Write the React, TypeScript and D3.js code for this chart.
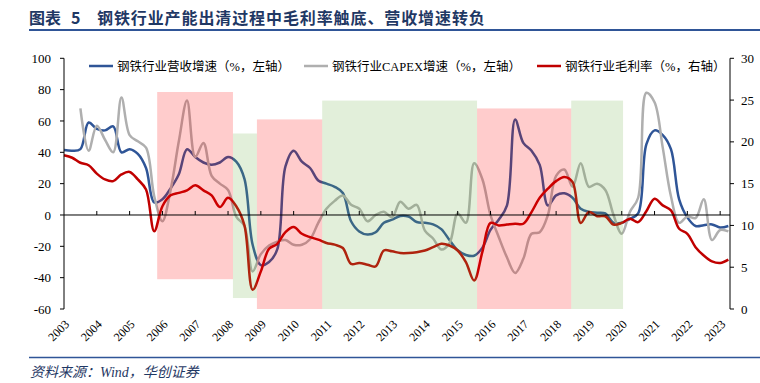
import React from 'react';
import * as d3 from 'd3';

// ---------- data (quarterly, starting 2003Q1) ----------
const startYear = 2003;
const yearLabels = ['2003','2004','2005','2006','2007','2008','2009','2010','2011','2012','2013','2014','2015','2016','2017','2018','2019','2020','2021','2022','2023'];
const leftTicks = [-60, -40, -20, 0, 20, 40, 60, 80, 100];
const rightTicks = [0, 5, 10, 15, 20, 25, 30];

// 钢铁行业营收增速 (%, left axis)
const revenueGrowth: number[] = [
  41.5, 41, 42, 59, 55, 54, 56.5, 40, 42, 39,
  30, 8, 10, 17, 26, 42, 37, 33.5, 32, 33.5,
  37, 34, 23, -19, -32, -30, -22, 31, 41, 34,
  30, 22, 20, 18, 14, -4, -10.5, -12.5, -11, -5,
  -3, -0.6, -1, -4.5, -5, -6, -9, -16, -22.5, -25.5,
  -26, -21, -9.5, -3, 6, 61, 46, 41, 32, 6,
  12.5, 13.8, 11, 4, 2, 1.5, 1, -5, -5, -2.5,
  1, 45, 54, 51, 42, 10, -1.5, -7, -6.5, -6,
  -8, -7,
];

// 钢铁行业CAPEX增速 (%, left axis)
const capexGrowth: (number | null)[] = [
  null, null, 68, 41, 57, 48, 40, 75, 51, 47,
  43, 12, -4, 16, 47, 73, 37, 46, 25, 20,
  16, -1, -7, -36, -25, -19.5, -17, -16, -19, -19,
  -15.5, -5, 4, 9, 12.5, 6.5, 4, -4, 0, 2,
  -1.5, 8.5, 4, 6.4, -10, -15, -22, -18, 1, -5,
  33, 23, 0, -14, -27, -37, -28, -12, -11, 0,
  25, 29, 18, 33, 18, 20, 16, 0, -12, 2,
  11, 78, 72, 43, 12, -5, -1, -2, 10, -16,
  -9.6, -10.5,
];

// 钢铁行业毛利率 (%, right axis)
const grossMargin: number[] = [
  18.4, 18.1, 17.5, 17.2, 16.2, 15.5, 15.3, 16.1, 16.4, 15.5,
  14.3, 9.3, 12.3, 13.6, 13.9, 14.2, 14.8, 14.2, 13.6, 12.2,
  13.3, 12.3, 10, 2.3, 4.5, 7.2, 7.8, 9.2, 9.8, 9.0,
  8.6, 8.3, 7.9, 7.7, 7.3, 5.4, 5.5, 5.3, 5.1, 7.0,
  6.9, 6.7, 6.7, 6.8, 7.0, 7.4, 7.8, 7.6, 7.0, 5.6,
  3.4, 6.8, 10.3, 10.0, 10.1, 10.2, 10.2, 11.6, 13.3, 14.4,
  15.3, 15.8, 15.2, 10.3, 11.6, 11.1, 11.1, 10.1, 10.3, 10.8,
  10.4, 11.7, 13.2, 12.4, 11.8, 9.6, 9.0, 7.4, 6.4, 5.7,
  5.5, 5.9,
];

// shaded periods: [start year, end year, top value, bottom value] (left-axis units)
const pinkPeriods = [
  [2005.84, 2008.15, 78.5, -41],
  [2008.88, 2010.87, 61, -60],
  [2015.59, 2018.46, 68, -60],
];
const greenPeriods = [
  [2008.15, 2008.88, 52, -53],
  [2010.87, 2015.59, 73, -60],
  [2018.46, 2020.04, 73, -60],
];

const legendItems = [
  { label: '钢铁行业营收增速（%，左轴）', color: '#2f5597' },
  { label: '钢铁行业CAPEX增速（%，左轴）', color: '#afafaf' },
  { label: '钢铁行业毛利率（%，右轴）', color: '#c00000' },
];

// ---------- chart ----------
const W = 760;
const H = 383;
const X0 = 64;
const X1 = 730;
const YTOP = 58.3;
const YBOT = 309;

export default function App() {
  const x = d3.scaleLinear().domain([2003, 2023.3]).range([X0, X1]);
  const yL = d3.scaleLinear().domain([-60, 100]).range([YBOT, YTOP]);
  const yR = d3.scaleLinear().domain([0, 30]).range([YBOT, YTOP]);
  const tq = (i: number) => startYear + i / 4;

  const lineL = d3
    .line<number | null>()
    .defined((d) => d !== null)
    .x((_, i) => x(tq(i)))
    .y((d) => yL(d as number))
    .curve(d3.curveCatmullRom.alpha(0.5));
  const lineR = d3
    .line<number>()
    .x((_, i) => x(tq(i)))
    .y((d) => yR(d))
    .curve(d3.curveCatmullRom.alpha(0.5));

  const serif = "'Liberation Serif', 'Times New Roman', serif";
  const cjk = "'Liberation Serif', 'Noto Sans CJK SC', serif";
  const navy = '#1f3864';

  const legendX = [89, 304, 537];

  return (
    <svg
      width={W}
      height={H}
      style={{ position: 'absolute', left: 0, top: 0, background: '#fff' }}
    >
      {/* title */}
      <text x={29} y={24} fontFamily="'Noto Sans CJK SC', sans-serif" fontWeight={700} fontSize={16} fill={navy}>
        <tspan>图表</tspan>
        <tspan x={71}>5</tspan>
        <tspan x={97} letterSpacing={0.9}>钢铁行业产能出清过程中毛利率触底、营收增速转负</tspan>
      </text>
      <line x1={29} x2={760} y1={30} y2={30} stroke="#2f5597" strokeWidth={2} />

      {/* lines */}
      <path d={lineL(revenueGrowth) || ''} fill="none" stroke="#2f5597" strokeWidth={2.5} />
      <path d={lineL(capexGrowth) || ''} fill="none" stroke="#afafaf" strokeWidth={2.5} />
      <path d={lineR(grossMargin) || ''} fill="none" stroke="#c00000" strokeWidth={2.5} />

      {/* shaded periods drawn on top with transparency */}
      {pinkPeriods.map((p, k) => (
        <rect
          key={'p' + k}
          x={x(p[0])}
          width={x(p[1]) - x(p[0])}
          y={yL(p[2])}
          height={yL(p[3]) - yL(p[2])}
          fill="rgba(255,0,0,0.2)"
        />
      ))}
      {greenPeriods.map((p, k) => (
        <rect
          key={'g' + k}
          x={x(p[0])}
          width={x(p[1]) - x(p[0])}
          y={yL(p[2])}
          height={yL(p[3]) - yL(p[2])}
          fill="rgba(112,173,71,0.2)"
        />
      ))}

      {/* zero line with year ticks */}
      <line x1={X0} x2={X1} y1={yL(0)} y2={yL(0)} stroke="#000" strokeWidth={1} />
      {yearLabels.map((yl, k) =>
        k === 0 ? null : (
          <line
            key={'xt' + yl}
            x1={x(+yl)}
            x2={x(+yl)}
            y1={yL(0)}
            y2={yL(0) - 4}
            stroke="#000"
            strokeWidth={1}
          />
        )
      )}

      {/* left axis */}
      <line x1={X0} x2={X0} y1={YTOP} y2={YBOT} stroke="#000" strokeWidth={1} />
      {leftTicks.map((t) => (
        <g key={'l' + t}>
          <line x1={X0 - 4} x2={X0} y1={yL(t)} y2={yL(t)} stroke="#000" />
          <text x={51} y={yL(t)} dy="0.35em" textAnchor="end" fontFamily={serif} fontSize={13} fill="#000">
            {t}
          </text>
        </g>
      ))}

      {/* right axis */}
      <line x1={X1} x2={X1} y1={YTOP} y2={YBOT} stroke="#000" strokeWidth={1} />
      {rightTicks.map((t) => (
        <g key={'r' + t}>
          <line x1={X1} x2={X1 + 4} y1={yR(t)} y2={yR(t)} stroke="#000" />
          <text x={741} y={yR(t)} dy="0.35em" textAnchor="start" fontFamily={serif} fontSize={13} fill="#000">
            {t}
          </text>
        </g>
      ))}

      {/* x labels */}
      {yearLabels.map((yl) => (
        <text
          key={'xl' + yl}
          transform={`translate(${x(+yl) + 3},${322}) rotate(-45)`}
          textAnchor="end"
          dy="0.35em"
          fontFamily={serif}
          fontSize={12}
          fill="#000"
        >
          {yl}
        </text>
      ))}

      {/* legend */}
      {legendItems.map((it, k) => (
        <g key={'lg' + k}>
          <line x1={legendX[k]} x2={legendX[k] + 24} y1={66} y2={66} stroke={it.color} strokeWidth={2.5} />
          <text x={legendX[k] + 28} y={70.5} fontFamily={cjk} fontSize={12.5} fill="#000">
            {it.label}
          </text>
        </g>
      ))}

      {/* source */}
      <line x1={29} x2={760} y1={357.5} y2={357.5} stroke="#2f5597" strokeWidth={1.5} />
      <text x={30} y={377} fontFamily={cjk} fontStyle="italic" fontSize={14} fill={navy}>
        资料来源：Wind，华创证券
      </text>
    </svg>
  );
}
